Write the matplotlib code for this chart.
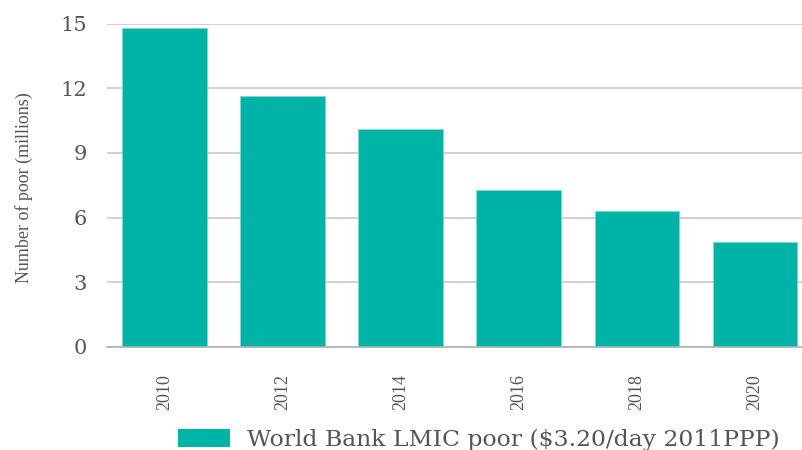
import matplotlib
matplotlib.use("Agg")
import matplotlib.pyplot as plt
from matplotlib.patches import Patch

years = ["2010", "2012", "2014", "2016", "2018", "2020"]
poor_millions = [14.8, 11.65, 10.1, 7.3, 6.3, 4.85]
yticks = [0, 3, 6, 9, 12, 15]
series_label = "World Bank LMIC poor ($3.20/day 2011PPP)"
ylabel = "Number of poor (millions)"

bar_color = "#00b3a7"
text_color = "#555555"
grid_color = "#c8c8c8"

plt.rcParams['font.family'] = ['Liberation Serif', 'DejaVu Serif']

fig = plt.figure(figsize=(8.02, 4.5), dpi=100)
ax = fig.add_axes([0.133, 0.2296, 0.867, 0.7174])

x = list(range(len(years)))
ax.bar(x, poor_millions, width=0.715, color=bar_color, zorder=3,
       edgecolor="#7fd9d3", linewidth=0.6)

ax.set_ylim(0, 15)
ax.set_xlim(-0.49, 5.40)
ax.set_yticks(yticks)
ax.set_yticklabels([str(v) for v in yticks], fontsize=15, color=text_color,
                   family=['DejaVu Serif'])
ax.set_xticks(x)
ax.set_xticklabels(years, rotation=90, fontsize=13, color=text_color)
ax.tick_params(axis='both', length=0)
ax.tick_params(axis='y', pad=14)
ax.tick_params(axis='x', pad=20)

ax.yaxis.grid(True, color=grid_color, linewidth=1.2, zorder=0)
ax.set_axisbelow(True)
for s in ["top", "right", "left"]:
    ax.spines[s].set_visible(False)
ax.spines["bottom"].set_color("#b0b0b0")
ax.spines["bottom"].set_linewidth(1.2)
ax.spines["bottom"].set_zorder(4)

fig.text(24 / 802, 1 - 188 / 450, ylabel, rotation=90, fontsize=13,
         color=text_color, ha='center', va='center')

handle = Patch(facecolor=bar_color, edgecolor="none")
fig.legend([handle], [series_label], loc="center left",
           bbox_to_anchor=(178 / 802, 1 - 440 / 450), frameon=False,
           handlelength=2.2, handleheight=0.85,
           handletextpad=0.75, labelcolor=text_color,
           prop={'family': ['DejaVu Serif'], 'size': 16.9},
           borderpad=0, borderaxespad=0)

fig.savefig("out.png", dpi=100)
